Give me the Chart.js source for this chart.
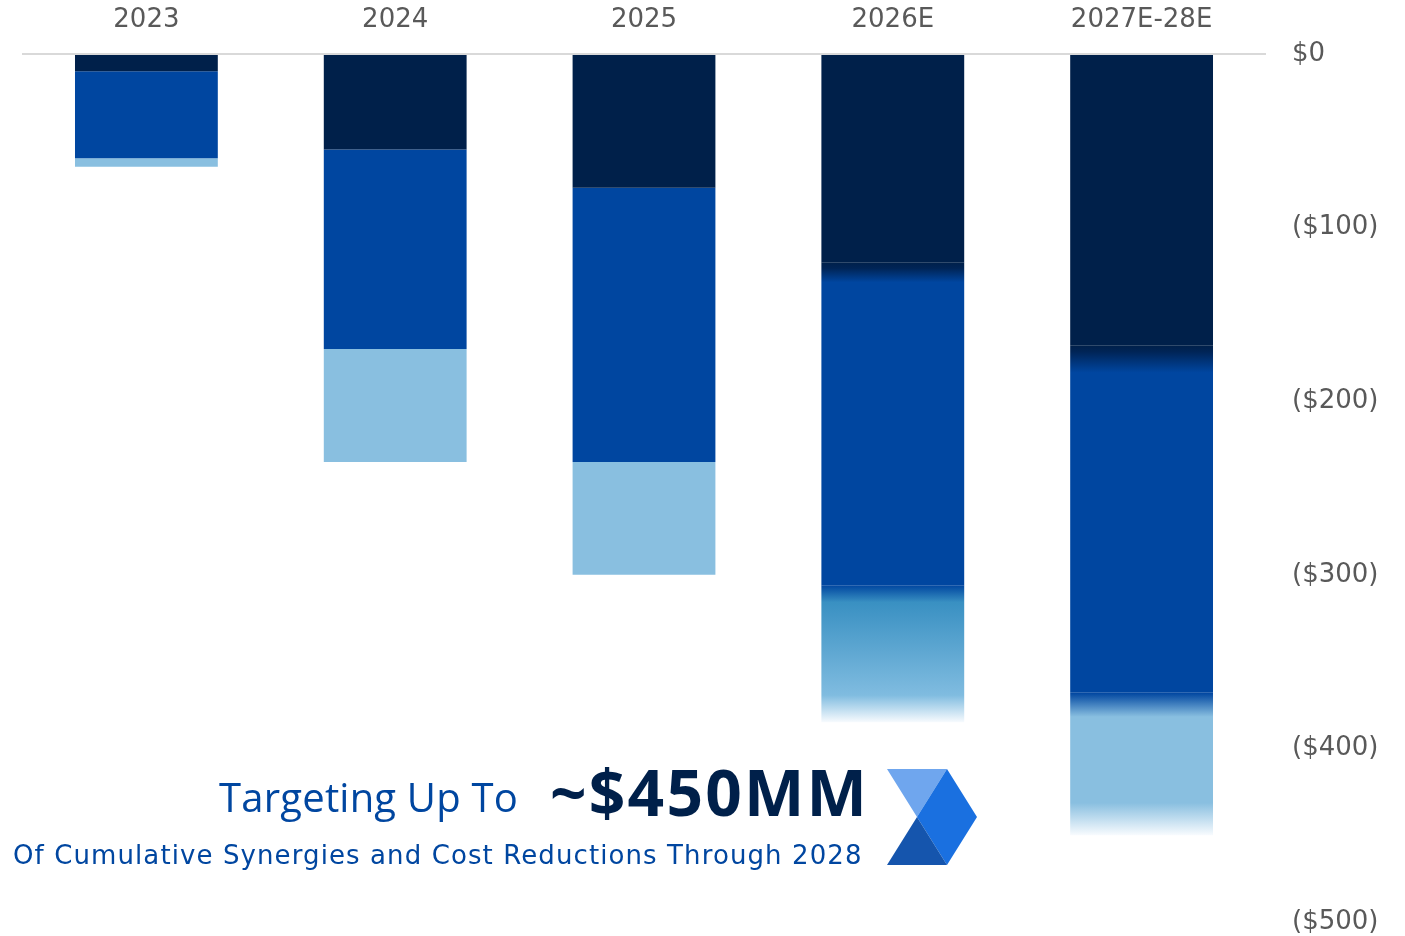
<!DOCTYPE html>
<html>
<head>
<meta charset="utf-8">
<script src="https://cdn.jsdelivr.net/npm/chart.js@4.4.1/dist/chart.umd.min.js"></script>
<style>
    html, body { margin: 0; padding: 0; background: #fff; }
    #wrap { position: relative; width: 1405px; height: 936px; overflow: hidden; }
    #chart { position: absolute; left: 0; top: 0; }
    .note { position: absolute; white-space: nowrap; font-family: "Open Sans", sans-serif; }
    #lead { right: 887px; top: 769px; font-size: 40px; color: #0046a0; font-weight: 500; letter-spacing: 0.2px; }
    #big { left: 550px; top: 748px; font-size: 64px; font-weight: 700; color: #00204a; letter-spacing: 2.2px; }
    #sub { left: 13px; top: 840px; font-size: 26px; color: #0046a0; font-family: "DejaVu Sans", sans-serif; letter-spacing: 1.1px; }
    #logo { position: absolute; left: 880px; top: 760px; }
</style>
</head>
<body>
<div id="wrap">
    <canvas id="chart" width="1405" height="936"></canvas>
    <div class="note" id="lead">Targeting Up To</div>
    <div class="note" id="big">~$450MM</div>
    <div class="note" id="sub">Of Cumulative Synergies and Cost Reductions Through 2028</div>
    <svg id="logo" width="110" height="110" viewBox="880 760 110 110">
        <polygon points="887,769 947,769 917,817" fill="#6fa6ee"/>
        <polygon points="947,769 977,817 947,865 917,817" fill="#1a70e0"/>
        <polygon points="917,817 947,865 887,865" fill="#1555ad"/>
    </svg>
</div>
<script>
// $MM, shown as negative (cost reductions)
const categories = ['2023', '2024', '2025', '2026E', '2027E-28E'];
const darkSeries = [-10, -55, -77, -120, -168];
const midSeries = [-50, -115, -158, -186, -200];
const lightSeries = [-5, -65, -65, -79, -82];
const yTicks = [0, -100, -200, -300, -400, -500];

const DARK = '#00204a';
const MID = '#0046a0';
const LIGHT = '#89bfe0';

// bars that fade into one another (estimates)
const softFrom = 3;

function segBounds(chart, dsIndex, i) {
    const y = chart.scales.y;
    let top = 0;
    for (let d = 0; d < dsIndex; d++) top += chart.data.datasets[d].data[i];
    const bottom = top + chart.data.datasets[dsIndex].data[i];
    return [y.getPixelForValue(top), y.getPixelForValue(bottom)];
}

function fill(ctx) {
    const chart = ctx.chart;
    const ds = ctx.datasetIndex;
    const i = ctx.dataIndex;
    const solid = [DARK, MID, LIGHT][ds];
    if (!chart.chartArea || i < softFrom || ds === 0) return solid;
    const [y0, y1] = segBounds(chart, ds, i);
    const h = y1 - y0;
    const g = chart.ctx.createLinearGradient(0, y0, 0, y1);
    const f = px => Math.min(1, Math.max(0, px / h));
    if (ds === 1) {
        g.addColorStop(0, '#00204a');
        g.addColorStop(f(6), '#002456');
        g.addColorStop(f(i === 3 ? 20 : 27), MID);
        g.addColorStop(1, MID);
    } else if (i === 3) {
        g.addColorStop(0, MID);
        g.addColorStop(f(17), '#3990c2');
        g.addColorStop(f(110), '#80bce0');
        g.addColorStop(1, '#f8fbfe');
    } else {
        g.addColorStop(0, MID);
        g.addColorStop(f(24), LIGHT);
        g.addColorStop(f(110), LIGHT);
        g.addColorStop(1, '#f8fbfe');
    }
    return g;
}

function money(v) {
    if (v === 0) return '$0';
    return '($' + Math.abs(v) + ')';
}

const tickFont = { family: '"DejaVu Sans", sans-serif', size: 26 };

new Chart(document.getElementById('chart'), {
    type: 'bar',
    data: {
        labels: categories,
        datasets: [
            { label: 'Dark', data: darkSeries },
            { label: 'Mid', data: midSeries },
            { label: 'Light', data: lightSeries }
        ].map(d => Object.assign(d, {
            backgroundColor: fill,
            borderWidth: 0,
            barPercentage: 0.574,
            categoryPercentage: 1
        }))
    },
    options: {
        responsive: false,
        animation: false,
        layout: { padding: { left: 22, right: 0, top: 0, bottom: 14 } },
        plugins: { legend: { display: false }, tooltip: { enabled: false } },
        scales: {
            x: {
                position: 'top',
                stacked: true,
                grid: { display: false },
                border: { display: false },
                ticks: { color: '#595959', font: tickFont, padding: 10 },
                afterFit: s => { s.height = 54; }
            },
            y: {
                position: 'right',
                stacked: true,
                min: -500,
                max: 0,
                afterBuildTicks: s => { s.ticks = yTicks.map(v => ({ value: v })); },
                grid: {
                    drawTicks: false,
                    lineWidth: 2,
                    color: c => (c.tick && c.tick.value === 0 ? '#d9d9d9' : 'rgba(0,0,0,0)')
                },
                border: { display: false },
                ticks: { color: '#595959', font: tickFont, padding: 26, callback: money },
                afterFit: s => {
                    s.width = 139;
                    s.paddingTop = 0;
                    s.paddingBottom = 0;
                }
            }
        }
    }
});
</script>
</body>
</html>
